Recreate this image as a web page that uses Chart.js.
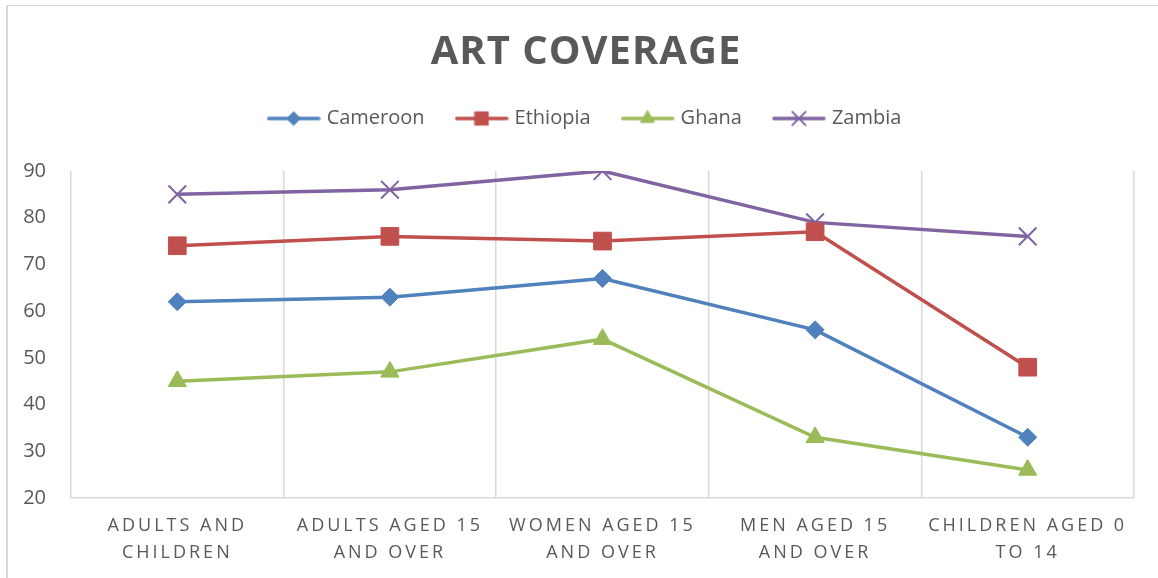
<!DOCTYPE html>
<html>
<head>
<meta charset="utf-8">
<script src="https://cdn.jsdelivr.net/npm/chart.js@4/dist/chart.umd.min.js"></script>
<style>
  html, body { margin: 0; padding: 0; background: #fff; }
  #wrap { position: relative; width: 1158px; height: 578px; overflow: hidden; }
  #frame { position: absolute; left: 6px; top: 5px; right: -4px; bottom: -4px;
           border-top: 1px solid #d9d9d9; border-left: 2px solid #d9d9d9; pointer-events: none; }
  canvas { position: absolute; left: 0; top: 0; }
</style>
</head>
<body>
<div id="wrap">
  <canvas id="chart" width="1158" height="578"></canvas>
  <div id="frame"></div>
</div>
<script>
// groups on the x axis (two-line labels)
const groups = [
  ['ADULTS AND', 'CHILDREN'],
  ['ADULTS AGED 15', 'AND OVER'],
  ['WOMEN AGED 15', 'AND OVER'],
  ['MEN AGED 15', 'AND OVER'],
  ['CHILDREN AGED 0', 'TO 14']
];

// coverage per country, same order as groups
const cameroon = [62, 63, 67, 56, 33];
const ethiopia = [74, 76, 75, 77, 48];
const ghana    = [45, 47, 54, 33, 26];
const zambia   = [85, 86, 90, 79, 76];

const yTicks = [20, 30, 40, 50, 60, 70, 80, 90];

const grey = '#595959';
const gridGrey = '#d9d9d9';

const series = [
  { label: 'Cameroon', data: cameroon, color: '#4F81BD', style: 'rectRot',  radius: 9,    pbw: 1 },
  { label: 'Ethiopia', data: ethiopia, color: '#C0504D', style: 'rect',     radius: 12.5, pbw: 1 },
  { label: 'Ghana',    data: ghana,    color: '#9BBB59', style: 'triangle', radius: 10.5, pbw: 1 },
  { label: 'Zambia',   data: zambia,   color: '#8064A2', style: 'crossRot', radius: 12.5, pbw: 2 }
];

// small line + marker picture for each legend entry
function legendIcon(s) {
  const c = document.createElement('canvas');
  c.width = 54; c.height = 20;
  const ctx = c.getContext('2d');
  ctx.strokeStyle = s.color;
  ctx.lineWidth = 3.5;
  ctx.lineCap = 'round';
  ctx.beginPath();
  ctx.moveTo(2, 10); ctx.lineTo(52, 10);
  ctx.stroke();
  ctx.fillStyle = s.color;
  ctx.lineWidth = s.pbw;
  Chart.helpers.drawPoint(ctx, {
    pointStyle: s.style, radius: s.radius * 0.75, rotation: 0, borderWidth: s.pbw
  }, 27, 10);
  return c;
}

function wrapSpacing(obj, name, ls) {
  if (!obj || obj['_ls_' + name]) return;
  const orig = obj[name];
  obj[name] = function (...args) {
    const ctx = this.ctx;
    ctx.save();
    ctx.letterSpacing = ls;
    orig.apply(this, args);
    ctx.restore();
  };
  obj['_ls_' + name] = true;
}

const tweaks = {
  id: 'tweaks',
  beforeLayout(chart) {
    const lg = chart.legend;
    if (lg && !lg._padded) {
      const fit = lg.fit;
      lg.fit = function () { fit.call(this); this.height += 32.5; };
      lg._padded = true;
    }
  },
  beforeDraw(chart) {
    wrapSpacing(chart.titleBlock, 'draw', '1px');
    wrapSpacing(chart.scales.x, 'drawLabels', '3px');
  }
};

new Chart(document.getElementById('chart'), {
  type: 'line',
  data: {
    labels: groups,
    datasets: series.map(s => ({
      label: s.label,
      data: s.data,
      borderColor: s.color,
      backgroundColor: s.color,
      borderWidth: 3.5,
      tension: 0,
      pointStyle: s.style,
      pointRadius: s.radius,
      pointBorderWidth: s.pbw,
      pointBackgroundColor: s.color,
      pointBorderColor: s.color,
      icon: legendIcon(s)
    }))
  },
  options: {
    responsive: false,
    animation: false,
    layout: { padding: { left: 14, right: 0, top: 0, bottom: 0 } },
    plugins: {
      tooltip: { enabled: false },
      title: {
        display: true,
        text: 'ART COVERAGE',
        color: grey,
        font: { family: 'Open Sans', size: 40, weight: 'bold', lineHeight: 1 },
        padding: { top: 32.5, bottom: 2 }
      },
      legend: {
        display: true,
        labels: {
          color: grey,
          font: { family: 'Open Sans', size: 20 },
          padding: 34,
          usePointStyle: true,
          pointStyleWidth: 46,
          generateLabels(chart) {
            return chart.data.datasets.map((d, i) => ({
              text: d.label,
              pointStyle: d.icon,
              fillStyle: d.borderColor,
              strokeStyle: d.borderColor,
              fontColor: grey,
              lineWidth: 0,
              hidden: false,
              datasetIndex: i
            }));
          }
        }
      }
    },
    scales: {
      x: {
        offset: true,
        grid: { display: true, offset: true, color: gridGrey, lineWidth: 1.5, drawTicks: false },
        border: { display: true, color: gridGrey, width: 1.5 },
        ticks: {
          color: grey,
          padding: 14,
          maxRotation: 0,
          autoSkip: false,
          font: { family: 'Open Sans', size: 18, lineHeight: 1.5 }
        },
        afterFit(scale) { scale.height = 80; }
      },
      y: {
        min: 20,
        max: 90,
        afterBuildTicks(scale) { scale.ticks = yTicks.map(v => ({ value: v })); },
        grid: { display: false },
        border: { display: false },
        ticks: {
          color: grey,
          padding: 17,
          font: { family: 'Open Sans', size: 20 }
        },
        afterFit(scale) { scale.width = 57; }
      },
      y2: {
        position: 'right',
        display: true,
        grid: { display: false },
        border: { display: false },
        ticks: { display: false },
        afterFit(scale) { scale.width = 24; }
      }
    }
  },
  plugins: [tweaks]
});
</script>
</body>
</html>
